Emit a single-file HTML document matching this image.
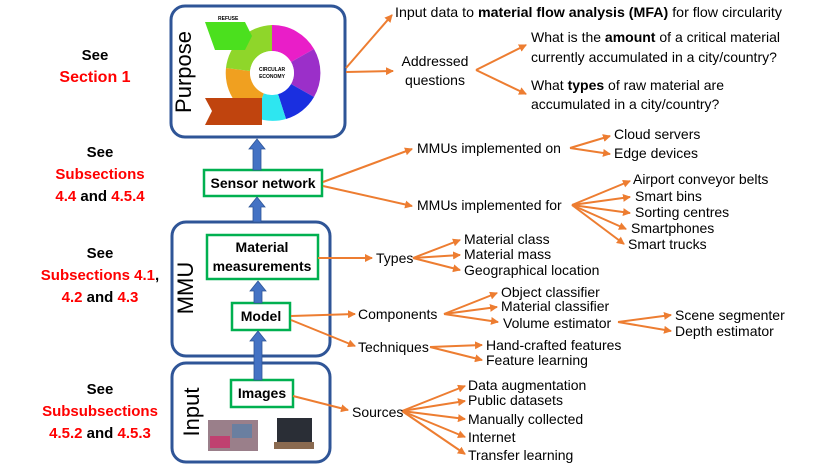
<!DOCTYPE html>
<html><head><meta charset="utf-8"><style>
body{margin:0;background:#fff}
svg{display:block;font-family:"Liberation Sans",sans-serif}
.r{fill:#ff0000;font-weight:bold}
.b{font-weight:bold}
.t{font-size:14px;fill:#000}
.l{font-size:15px;text-anchor:middle}
</style></head><body>
<svg width="830" height="467" viewBox="0 0 830 467" xmlns="http://www.w3.org/2000/svg">
<defs>
<marker id="a" markerWidth="8" markerHeight="8" refX="7" refY="4" orient="auto" markerUnits="userSpaceOnUse"><path d="M0,0 L8,4 L0,8 z" fill="#ed7d31"/></marker>
</defs>
<g class="l">
<text x="95" y="60" class="b">See</text>
<text x="95" y="82" class="r" font-size="16">Section 1</text>
<text x="100" y="157" class="b">See</text>
<text x="100" y="179" class="r">Subsections</text>
<text x="100" y="201"><tspan class="r">4.4</tspan><tspan class="b"> and </tspan><tspan class="r">4.5.4</tspan></text>
<text x="100" y="258" class="b">See</text>
<text x="100" y="280"><tspan class="r">Subsections 4.1</tspan><tspan class="b">,</tspan></text>
<text x="100" y="302"><tspan class="r">4.2</tspan><tspan class="b"> and </tspan><tspan class="r">4.3</tspan></text>
<text x="100" y="394" class="b">See</text>
<text x="100" y="416" class="r">Subsubsections</text>
<text x="100" y="438"><tspan class="r">4.5.2</tspan><tspan class="b"> and </tspan><tspan class="r">4.5.3</tspan></text>
</g>
<rect x="171" y="6" width="174" height="131" rx="14" fill="#fff" stroke="#2f5597" stroke-width="3"/>
<rect x="172" y="222" width="158" height="134" rx="14" fill="#fff" stroke="#2f5597" stroke-width="3"/>
<rect x="172" y="363" width="158" height="99" rx="14" fill="#fff" stroke="#2f5597" stroke-width="3"/>
<text transform="translate(191,72) rotate(-90)" font-size="22" text-anchor="middle">Purpose</text>
<text transform="translate(193,288) rotate(-90)" font-size="22" text-anchor="middle">MMU</text>
<text transform="translate(199,412) rotate(-90)" font-size="22" text-anchor="middle">Input</text>
<g transform="translate(272,73)">
<path d="M0,-48 A48,48 0 0 1 42,-24 L19,-11 A22,22 0 0 0 0,-22z" fill="#e91ec8"/>
<path d="M42,-24 A48,48 0 0 1 42,24 L19,11 A22,22 0 0 0 19,-11z" fill="#9b2fc9"/>
<path d="M42,24 A48,48 0 0 1 14,46 L6,21 A22,22 0 0 0 19,11z" fill="#1a2fe0"/>
<path d="M14,46 A48,48 0 0 1 -18,44 L-8,20 A22,22 0 0 0 6,21z" fill="#2ee6f0"/>
<path d="M-18,44 A48,48 0 0 1 -46,-5 L-22,-2 A22,22 0 0 0 -8,20z" fill="#f0a020"/>
<path d="M-46,-5 A48,48 0 0 1 0,-48 L0,-22 A22,22 0 0 0 -22,-2z" fill="#8fd62a"/>
<circle r="22" fill="#fff"/>
<text y="-2" font-size="5" text-anchor="middle" font-weight="bold">CIRCULAR</text>
<text y="5" font-size="5" text-anchor="middle" font-weight="bold">ECONOMY</text>
</g>
<path d="M205,22 L245,22 L252,36 L245,50 L215,50z" fill="#4be01e"/>
<path d="M205,98 L262,98 L262,125 L205,125 L212,111z" fill="#c0440e"/>
<text x="218" y="20" font-size="5" font-weight="bold">REFUSE</text>
<rect x="204" y="170" width="118" height="26" fill="#fff" stroke="#00b050" stroke-width="2.5"/>
<text x="263" y="188" font-size="14" font-weight="bold" text-anchor="middle">Sensor network</text>
<rect x="207" y="235" width="111" height="44" fill="#fff" stroke="#00b050" stroke-width="2.5"/>
<text x="262" y="252" font-size="14" font-weight="bold" text-anchor="middle">Material</text>
<text x="262" y="271" font-size="14" font-weight="bold" text-anchor="middle">measurements</text>
<rect x="232" y="303" width="58" height="27" fill="#fff" stroke="#00b050" stroke-width="2.5"/>
<text x="261" y="321" font-size="14" font-weight="bold" text-anchor="middle">Model</text>
<rect x="231" y="380" width="62" height="27" fill="#fff" stroke="#00b050" stroke-width="2.5"/>
<text x="262" y="398" font-size="14" font-weight="bold" text-anchor="middle">Images</text>
<rect x="208" y="420" width="50" height="31" fill="#9a7f8a"/>
<rect x="210" y="436" width="20" height="12" fill="#c04070"/>
<rect x="232" y="424" width="20" height="14" fill="#6a7fa0"/>
<rect x="277" y="418" width="35" height="24" fill="#2a2e36"/>
<rect x="274" y="442" width="40" height="7" fill="#8a6a50"/>
<g fill="#4472c4" stroke="#2f5597" stroke-width="0.8">
<path d="M253,170 L253,149 L249,149 L257,139 L265,149 L261,149 L261,170z"/>
<path d="M253,222 L253,207 L249,207 L257,197 L265,207 L261,207 L261,222z"/>
<path d="M254,303 L254,291 L250,291 L258,281 L266,291 L262,291 L262,303z"/>
<path d="M254,380 L254,341 L250,341 L258,331 L266,341 L262,341 L262,380z"/>
</g>
<g stroke="#ed7d31" stroke-width="2" fill="none" marker-end="url(#a)">
<line x1="346" y1="68" x2="392" y2="15"/>
<line x1="346" y1="72" x2="393" y2="71"/>
<line x1="476" y1="70" x2="526" y2="45"/>
<line x1="476" y1="70" x2="526" y2="94"/>
<line x1="323" y1="182" x2="412" y2="149"/>
<line x1="323" y1="186" x2="412" y2="206"/>
<line x1="570" y1="148" x2="610" y2="136"/>
<line x1="570" y1="148" x2="610" y2="154"/>
<line x1="572" y1="205" x2="630" y2="181"/>
<line x1="572" y1="205" x2="630" y2="197"/>
<line x1="572" y1="205" x2="630" y2="213"/>
<line x1="572" y1="205" x2="626" y2="229"/>
<line x1="572" y1="205" x2="624" y2="244"/>
<line x1="318" y1="258" x2="372" y2="258"/>
<line x1="413" y1="258" x2="460" y2="240"/>
<line x1="413" y1="258" x2="460" y2="255"/>
<line x1="413" y1="258" x2="460" y2="270"/>
<line x1="291" y1="316" x2="355" y2="314"/>
<line x1="291" y1="320" x2="355" y2="346"/>
<line x1="444" y1="314" x2="497" y2="293"/>
<line x1="444" y1="314" x2="497" y2="307"/>
<line x1="444" y1="314" x2="498" y2="322"/>
<line x1="618" y1="322" x2="671" y2="315"/>
<line x1="618" y1="322" x2="671" y2="331"/>
<line x1="430" y1="347" x2="482" y2="345"/>
<line x1="430" y1="347" x2="482" y2="360"/>
<line x1="293" y1="396" x2="348" y2="410"/>
<line x1="402" y1="411" x2="465" y2="386"/>
<line x1="402" y1="411" x2="465" y2="401"/>
<line x1="402" y1="411" x2="465" y2="419"/>
<line x1="402" y1="411" x2="465" y2="437"/>
<line x1="402" y1="411" x2="465" y2="454"/>
</g>
<g class="t">
<text x="395" y="17" textLength="387" lengthAdjust="spacingAndGlyphs">Input data to <tspan class="b">material flow analysis (MFA)</tspan> for flow circularity</text>
<text x="435" y="66" text-anchor="middle">Addressed</text>
<text x="435" y="85" text-anchor="middle">questions</text>
<text x="531" y="42">What is the <tspan class="b">amount</tspan> of a critical material</text>
<text x="531" y="62">currently accumulated in a city/country?</text>
<text x="531" y="90">What <tspan class="b">types</tspan> of raw material are</text>
<text x="531" y="109">accumulated in a city/country?</text>
<text x="417" y="153">MMUs implemented on</text>
<text x="614" y="139">Cloud servers</text>
<text x="614" y="158">Edge devices</text>
<text x="417" y="210">MMUs implemented for</text>
<text x="633" y="184">Airport conveyor belts</text>
<text x="635" y="201">Smart bins</text>
<text x="635" y="217">Sorting centres</text>
<text x="631" y="233">Smartphones</text>
<text x="628" y="249">Smart trucks</text>
<text x="376" y="263">Types</text>
<text x="464" y="244">Material class</text>
<text x="464" y="259">Material mass</text>
<text x="464" y="275">Geographical location</text>
<text x="358" y="319">Components</text>
<text x="358" y="352">Techniques</text>
<text x="501" y="297">Object classifier</text>
<text x="501" y="311">Material classifier</text>
<text x="503" y="328">Volume estimator</text>
<text x="675" y="320">Scene segmenter</text>
<text x="675" y="336">Depth estimator</text>
<text x="486" y="350">Hand-crafted features</text>
<text x="486" y="365">Feature learning</text>
<text x="352" y="417">Sources</text>
<text x="468" y="390">Data augmentation</text>
<text x="468" y="405">Public datasets</text>
<text x="468" y="424">Manually collected</text>
<text x="468" y="442">Internet</text>
<text x="468" y="460">Transfer learning</text>
</g>
</svg>
</body></html>
